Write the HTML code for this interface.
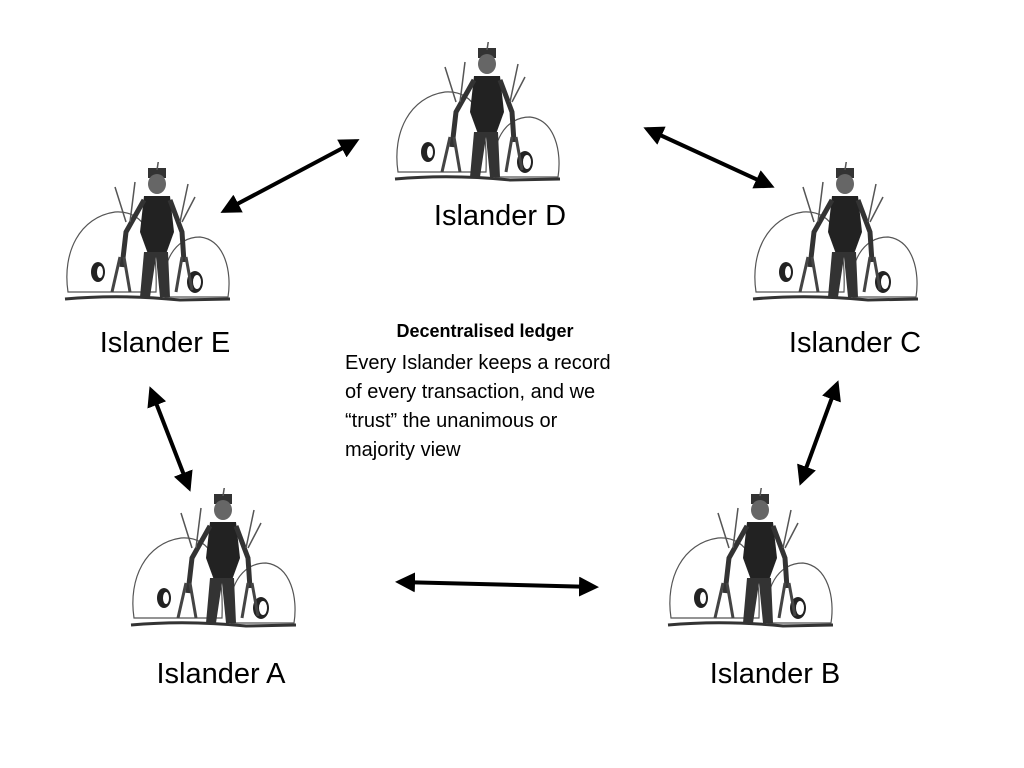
<!DOCTYPE html>
<html><head><style>
body{margin:0;width:1024px;height:768px;background:#fff;overflow:hidden;font-family:"Liberation Sans",sans-serif}
svg{position:absolute;left:0;top:0}
</style></head><body>
<svg width="1024" height="768" viewBox="0 0 1024 768">
<defs>
<symbol id="fig" viewBox="0 0 175 145" width="175" height="145">
 <path d="M8 130 C2 90 20 55 55 50 C85 48 98 75 96 130 Z" fill="#fff" stroke="#555" stroke-width="1.2"/>
 <ellipse cx="38" cy="110" rx="7" ry="10" fill="#222"/>
 <ellipse cx="40" cy="110" rx="3" ry="6" fill="#fff"/>
 <path d="M105 135 C100 100 115 75 140 75 C165 78 172 110 168 135 Z" fill="#fff" stroke="#555" stroke-width="1.2"/>
 <ellipse cx="135" cy="120" rx="8" ry="11" fill="#222"/>
 <ellipse cx="137" cy="120" rx="4" ry="7" fill="#fff"/>
 <path d="M5 137 Q60 132 120 138 L170 137" stroke="#333" stroke-width="3" fill="none"/>
 <rect x="88" y="6" width="18" height="10" fill="#333"/>
 <ellipse cx="97" cy="22" rx="9" ry="10" fill="#666"/>
 <path d="M84 34 L110 34 L114 70 L106 92 L88 92 L80 70 Z" fill="#222"/>
 <path d="M84 90 L80 135 L90 135 L96 95 L100 135 L110 135 L108 90 Z" fill="#333"/>
 <path d="M84 38 L66 70 L62 105" stroke="#333" stroke-width="5" fill="none"/>
 <path d="M110 38 L122 70 L124 100" stroke="#333" stroke-width="5" fill="none"/>
 <path d="M60 95 L52 130 M64 95 L70 130 M122 95 L116 130 M126 95 L132 128" stroke="#444" stroke-width="3"/>
 <path d="M66 60 L55 25 M70 60 L75 20 M120 60 L128 22 M122 60 L135 35 M97 8 L99 -5" stroke="#555" stroke-width="1.5"/>
</symbol>
<marker id="ah" viewBox="0 0 10 10" refX="8" refY="5" markerWidth="5" markerHeight="5" orient="auto-start-reverse">
 <path d="M0 0 L10 5 L0 10 Z" fill="#000"/>
</marker>
</defs>
<use href="#fig" x="390" y="42"/>
<use href="#fig" x="60" y="162"/>
<use href="#fig" x="748" y="162"/>
<use href="#fig" x="126" y="488"/>
<use href="#fig" x="663" y="488"/>
<g stroke="#000" stroke-width="4" marker-start="url(#ah)" marker-end="url(#ah)">
 <line x1="224" y1="211" x2="356" y2="141"/>
 <line x1="647" y1="129" x2="771" y2="186"/>
 <line x1="151" y1="390" x2="189" y2="488"/>
 <line x1="837" y1="384" x2="801" y2="482"/>
 <line x1="399" y1="582" x2="595" y2="587"/>
</g>
<g font-size="29" fill="#000" text-anchor="middle">
 <text x="500" y="225">Islander D</text>
 <text x="165" y="352">Islander E</text>
 <text x="855" y="352">Islander C</text>
 <text x="221" y="683">Islander A</text>
 <text x="775" y="683">Islander B</text>
</g>
<text x="485" y="337" font-size="18" font-weight="bold" text-anchor="middle">Decentralised ledger</text>
<g font-size="20">
 <text x="345" y="369">Every Islander keeps a record</text>
 <text x="345" y="398">of every transaction, and we</text>
 <text x="345" y="427">“trust” the unanimous or</text>
 <text x="345" y="456">majority view</text>
</g>
</svg>
</body></html>
